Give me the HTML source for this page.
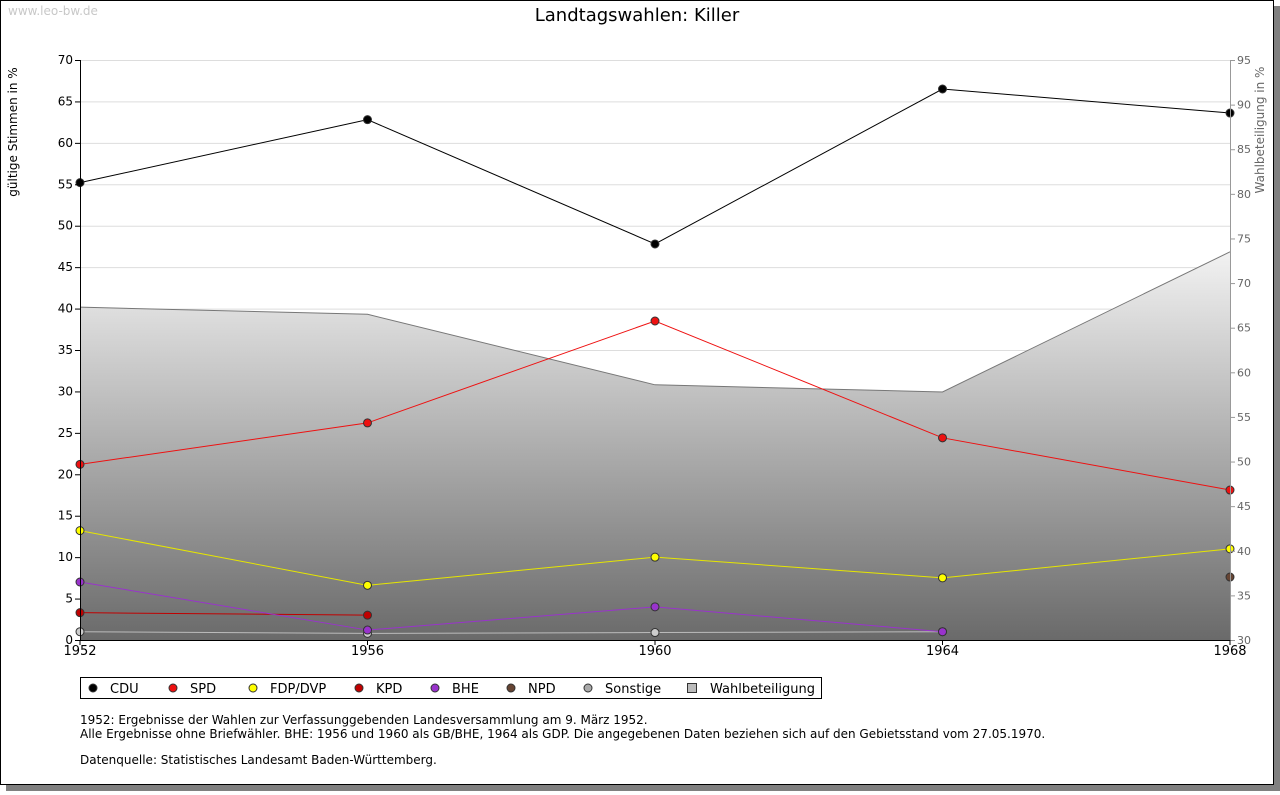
<!DOCTYPE html>
<html><head><meta charset="utf-8"><style>
body{margin:0;background:#fff;font-family:"DejaVu Sans","Liberation Sans",sans-serif;}
svg text{font-family:"DejaVu Sans","Liberation Sans",sans-serif;}
</style></head><body>
<svg id="chart" width="1280" height="791" xmlns="http://www.w3.org/2000/svg">
<defs><linearGradient id="g" x1="0" y1="0" x2="0" y2="1"><stop offset="0" stop-color="#f2f2f2"/><stop offset="1" stop-color="#6a6a6a"/></linearGradient></defs>
<rect x="6" y="6" width="1274" height="785" fill="#808080"/>
<rect x="0.5" y="0.5" width="1273" height="784" fill="#fff" stroke="#000"/>
<text x="8" y="15" font-size="12" fill="#c8c8c8">www.leo-bw.de</text>
<text x="637" y="21" font-size="18" text-anchor="middle">Landtagswahlen: Killer</text>
<text transform="translate(17,132) rotate(-90)" x="0" y="0" font-size="12" text-anchor="middle">gültige Stimmen in %</text>
<text transform="translate(1264,130) rotate(-90)" font-size="12" text-anchor="middle" fill="#666">Wahlbeteiligung in %</text>
<g id="grid"></g><g id="area"></g><g id="series"></g><g id="axes"></g>
<rect x="80.5" y="677.5" width="741" height="21" fill="#fff" stroke="#000"/>
<g id="legend"></g>
<text x="80" y="724" font-size="12">1952: Ergebnisse der Wahlen zur Verfassunggebenden Landesversammlung am 9. März 1952.</text>
<text x="80" y="738" font-size="12">Alle Ergebnisse ohne Briefwähler. BHE: 1956 und 1960 als GB/BHE, 1964 als GDP. Die angegebenen Daten beziehen sich auf den Gebietsstand vom 27.05.1970.</text>
<text x="80" y="764" font-size="12">Datenquelle: Statistisches Landesamt Baden-Württemberg.</text>
</svg>
<script>
const years=[1952,1956,1960,1964,1968];
const cdu=[55.2,62.8,47.8,66.5,63.6];
const spd=[21.2,26.2,38.5,24.4,18.1];
const fdp=[13.2,6.6,10.0,7.5,11.0];
const kpd=[3.3,3.0,null,null,null];
const bhe=[7.0,1.2,4.0,1.0,null];
const npd=[null,null,null,null,7.6];
const sonst=[1.0,0.8,0.9,1.0,null];
const turnout=[67.3,66.5,58.6,57.8,73.5];
const leftTicks=[0,5,10,15,20,25,30,35,40,45,50,55,60,65,70];
const rightTicks=[30,35,40,45,50,55,60,65,70,75,80,85,90,95];
const NS='http://www.w3.org/2000/svg';
const L=80,R=1230,T=60,B=640;
const x=i=>L+(R-L)*(years[i]-years[0])/(years[years.length-1]-years[0]);
const y=v=>B-(B-T)*v/70;
const y2=v=>B-(B-T)*(v-30)/65;
function mk(tag,attrs,parent,text){const e=document.createElementNS(NS,tag);for(const k in attrs)e.setAttribute(k,attrs[k]);if(text!==undefined)e.textContent=text;document.getElementById(parent).appendChild(e);return e;}
leftTicks.forEach(t=>{
 if(t>0){const g=mk('line',{x1:L,x2:R,y1:y(t)+.5,y2:y(t)+.5,stroke:'#ddd'},'grid');}
 mk('line',{x1:L-5,x2:L,y1:y(t)+.5,y2:y(t)+.5,stroke:'#000'},'axes');
 const tx=mk('text',{x:L-7,y:y(t)+4,'font-size':12,'text-anchor':'end'},'axes',t);
 
});
rightTicks.forEach(t=>{
 mk('line',{x1:R,x2:R+5,y1:y2(t)+.5,y2:y2(t)+.5,stroke:'#999'},'axes');
 const tx=mk('text',{x:R+7,y:y2(t)+4,'font-size':11,fill:'#666'},'axes',t);
 
});
years.forEach((yr,i)=>{
 mk('line',{x1:x(i),x2:x(i),y1:B,y2:B+5,stroke:'#000'},'axes');
 const tx=mk('text',{x:x(i),y:B+15,'font-size':13,'text-anchor':'middle'},'axes',yr);
 
});
mk('line',{x1:L+.5,x2:L+.5,y1:T,y2:B,stroke:'#000'},'axes');
mk('line',{x1:R+.5,x2:R+.5,y1:T,y2:B,stroke:'#999'},'axes');
mk('line',{x1:L,x2:R,y1:B+.5,y2:B+.5,stroke:'#000'},'axes');
let d='M'+x(0)+','+B;turnout.forEach((v,i)=>d+=' L'+x(i)+','+y2(v));d+=' L'+x(4)+','+B+'Z';
const a=mk('path',{d:d,fill:'url(#g)'},'area');
const tl=mk('polyline',{points:turnout.map((v,i)=>x(i)+','+y2(v)).join(' '),fill:'none',stroke:'#777'},'area');

const series=[['sonstige',sonst,'#ccc','#bbb'],['kpd',kpd,'#c00000','#c00000'],['bhe',bhe,'#9933cc','#9933cc'],['fdp',fdp,'#ffff00','#e6e600'],['spd',spd,'#ee1111','#ee1111'],['cdu',cdu,'#000','#000'],['npd',npd,'#664433','#664433']];
series.forEach(([n,vals,fill,stroke])=>{
 const pts=[];vals.forEach((v,i)=>{if(v!==null)pts.push(x(i)+','+y(v));});
 if(pts.length>1){const p=mk('polyline',{points:pts.join(' '),fill:'none',stroke:stroke,'stroke-width':1},'series');}
 vals.forEach((v,i)=>{if(v===null)return;
  const c=mk('circle',{cx:x(i),cy:y(v),r:4,fill:fill,stroke:'#333'},'series');
  });
});
const leg=[['CDU','#000',90],['SPD','#ee1111',170],['FDP/DVP','#ffff00',250],['KPD','#c00000',356],['BHE','#9933cc',432],['NPD','#664433',508],['Sonstige','#aaa',585]];
leg.forEach(([t,c,lx])=>{
 const m=mk('circle',{cx:lx+3,cy:688,r:4,fill:c,stroke:'#333'},'legend');
 
 const tx=mk('text',{x:lx+20,y:693,'font-size':13},'legend',t);
 
});
const sq=mk('rect',{x:687.5,y:683.5,width:9,height:9,fill:'#bbb',stroke:'#333'},'legend');

const wt=mk('text',{x:710,y:693,'font-size':13},'legend','Wahlbeteiligung');

</script>
</body></html>
